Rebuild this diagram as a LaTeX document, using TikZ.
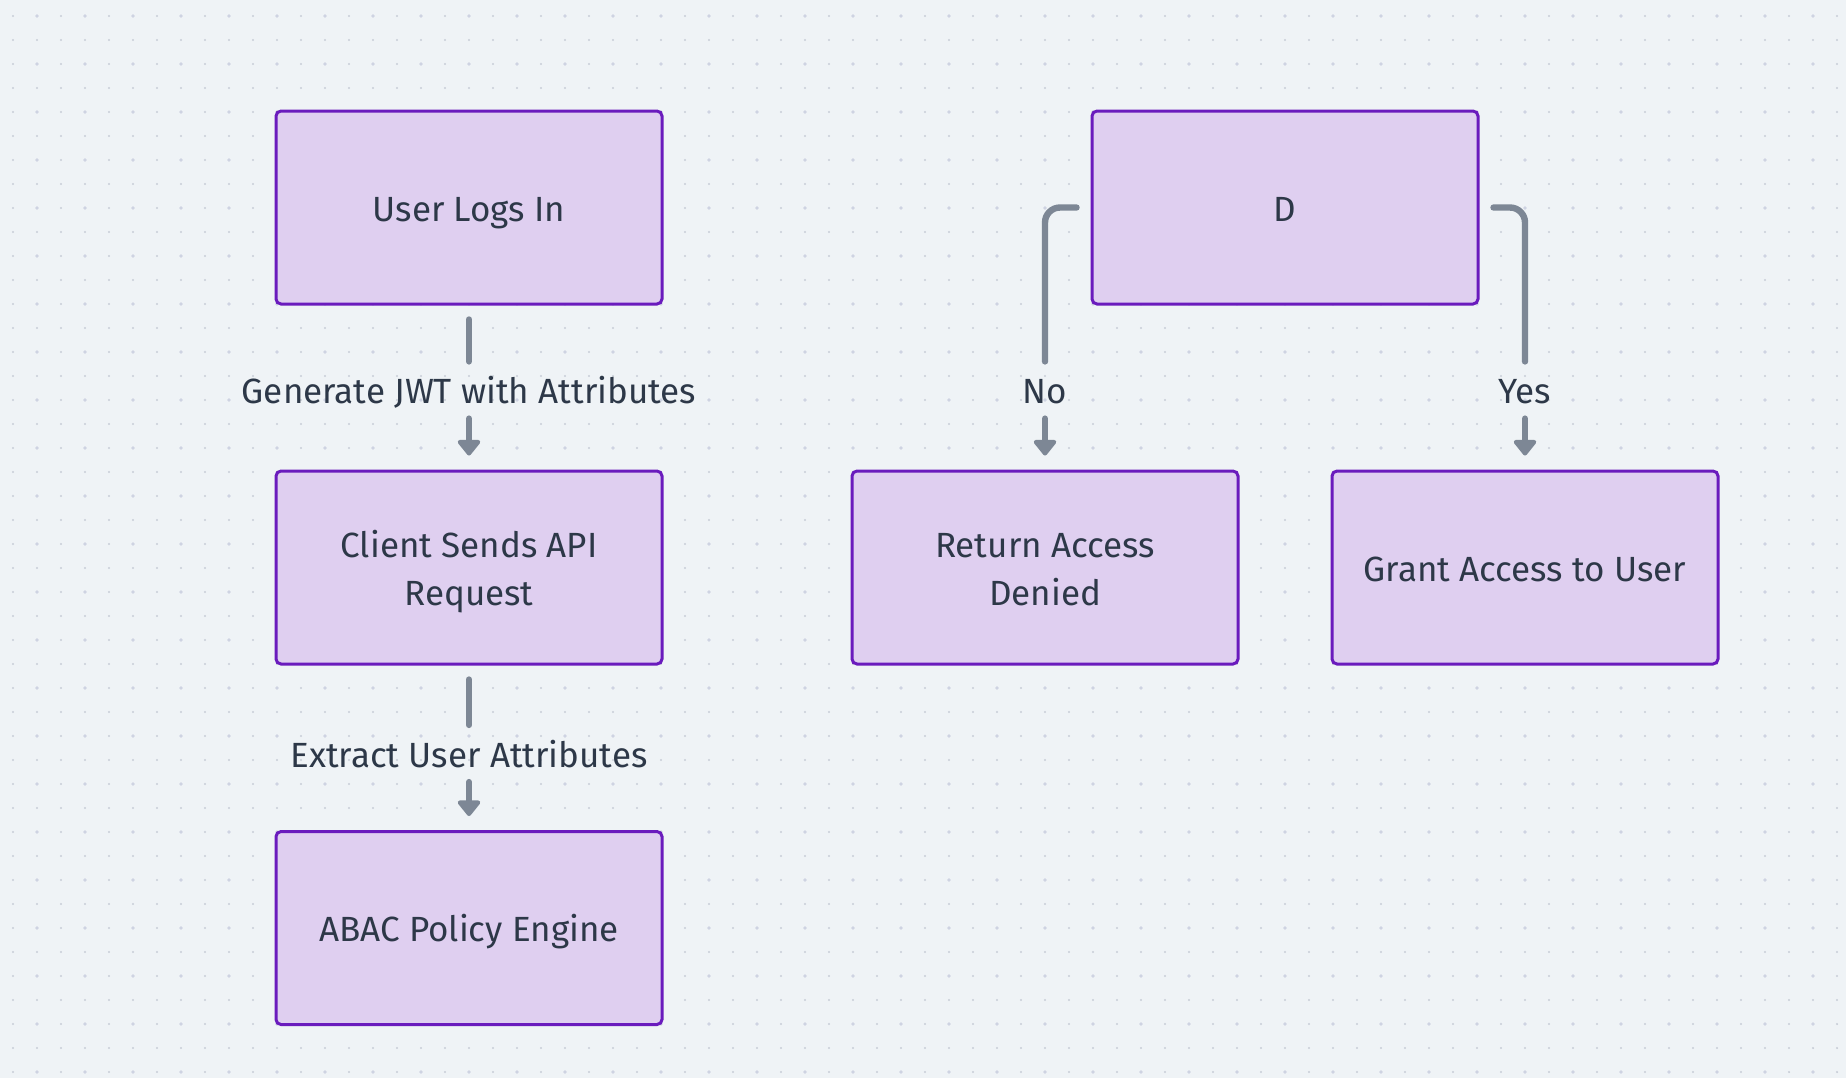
\documentclass[tikz,border=0pt]{standalone}
\usepackage{fontspec}
\setmainfont{Fira Sans}
\usetikzlibrary{arrows.meta,calc}
\definecolor{bgc}{RGB}{239,243,246}
\definecolor{dotc}{RGB}{200,205,215}
\definecolor{dotb}{RGB}{206,211,226}
\definecolor{boxborder}{RGB}{106,27,189}
\definecolor{boxfill}{RGB}{223,207,240}
\definecolor{txt}{RGB}{45,56,72}
\definecolor{linec}{RGB}{125,135,149}
\begin{document}
\begin{tikzpicture}[x=0.5pt,y=-0.5pt,
  box/.style={draw=boxborder,fill=boxfill,line width=1.5pt,rounded corners=2.5pt,
    minimum width=193pt,minimum height=96.5pt,text=txt,
    font=\fontsize{17.5}{24}\selectfont,align=center,inner sep=0pt,
    text height=13.5pt,text depth=0pt},
  boxtwo/.style={box,text height=37.5pt,text depth=0pt},
  lbl/.style={text=txt,font=\fontsize{17.5}{24}\selectfont,inner sep=0pt,
    minimum height=25pt,text height=13.5pt,text depth=0pt},
  conn/.style={draw=linec,line width=3.2pt,line cap=round,line join=round,rounded corners=7.5pt},
  arr/.style={conn,-{Triangle[width=13pt,length=8.5pt,round]}}
]
\fill[bgc] (0,0) rectangle (1846,1078);
\useasboundingbox (0,0) rectangle (1846,1078);
\foreach \i in {0,...,76}{
  \foreach \j in {0,...,44}{
    \fill[dotc] (13+24*\i,16+24*\j) circle (0.6pt);
  }
}
\foreach \i in {0,...,37}{
  \foreach \j in {0,...,22}{
    \fill[dotb] (37+48*\i,16+48*\j) circle (0.95pt);
  }
}
% nodes
\node[box] (A) at (469,207.5) {User Logs In};
\node[boxtwo] (B) at (469,567.5) {Client Sends API\\Request};
\node[box] (C) at (469,928) {ABAC Policy Engine};
\node[box] (D) at (1285,207.5) {D};
\node[boxtwo] (R) at (1045,567.5) {Return Access\\Denied};
\node[box] (G) at (1525,567.5) {Grant Access to User};
% labels
\node[lbl] (l1) at (469,390) {Generate JWT with Attributes};
\node[lbl] (l2) at (469,753.5) {Extract User Attributes};
\node[lbl] (lno) at (1045,390) {No};
\node[lbl] (lyes) at (1525,390) {Yes};
% connectors
\draw[conn,shorten <=7pt,shorten >=1.6pt] (A) -- (l1);
\draw[arr,shorten <=1.6pt,shorten >=7pt] (l1) -- (B);
\draw[conn,shorten <=7pt,shorten >=1.6pt] (B) -- (l2);
\draw[arr,shorten <=1.6pt,shorten >=7pt] (l2) -- (C);
\draw[conn,shorten <=7pt,shorten >=1.6pt] (D.west) -| (lno.north);
\draw[arr,shorten <=1.6pt,shorten >=7pt] (lno) -- (R);
\draw[conn,shorten <=7pt,shorten >=1.6pt] (D.east) -| (lyes.north);
\draw[arr,shorten <=1.6pt,shorten >=7pt] (lyes) -- (G);
\end{tikzpicture}
\end{document}
